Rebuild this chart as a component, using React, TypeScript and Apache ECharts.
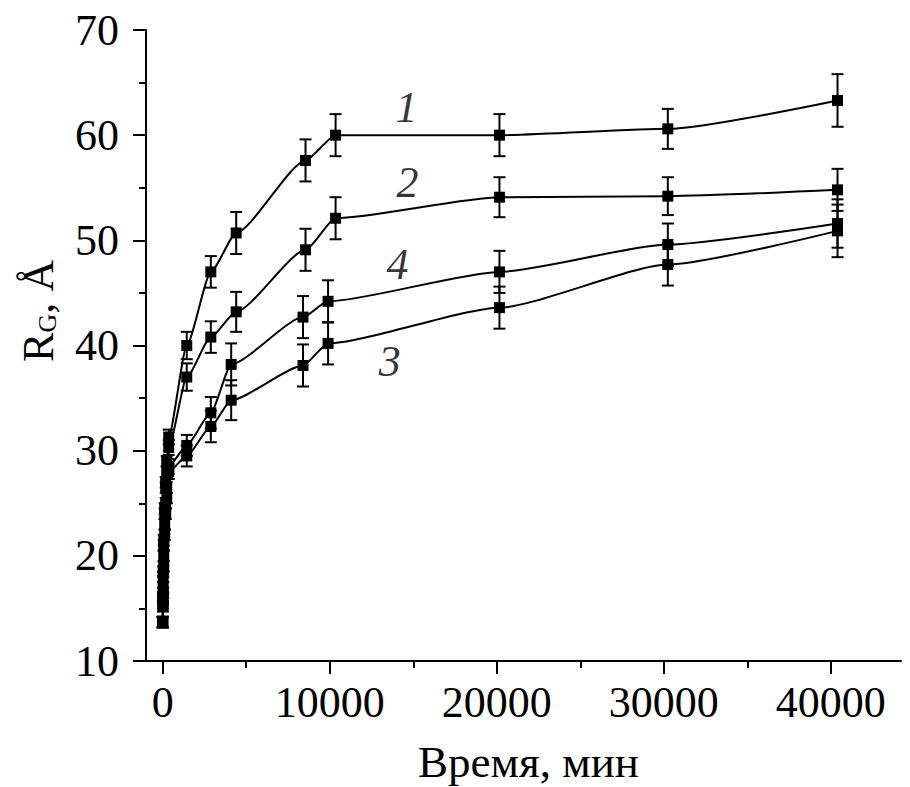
import React, { useEffect, useRef } from 'react';
import * as echarts from 'echarts';

// time points (min) for curves 1 and 2, and for curves 3 and 4
const TIME_A = [0, 15, 30, 60, 120, 180, 240, 360, 1440, 2880, 4400, 8550, 10350, 20160, 30240, 40400];
const TIME_B = [0, 15, 30, 60, 120, 180, 240, 360, 1440, 2880, 4100, 8400, 9900, 20160, 30240, 40400];

// radius of gyration, Å
const RG_1 = [13.7, 16.0, 18.5, 21.5, 24.5, 27.0, 29.0, 31.3, 40.0, 47.0, 50.7, 57.6, 60.0, 60.0, 60.6, 63.3];
const RG_2 = [13.7, 15.8, 18.0, 21.0, 24.0, 26.5, 28.0, 30.3, 37.0, 40.8, 43.2, 49.1, 52.1, 54.1, 54.2, 54.8];
const RG_3 = [13.7, 15.2, 16.5, 19.0, 22.0, 24.0, 25.5, 28.0, 29.5, 32.3, 34.8, 38.1, 40.2, 43.6, 47.7, 50.9];
const RG_4 = [13.7, 15.5, 17.0, 20.0, 23.0, 25.0, 26.5, 28.5, 30.5, 33.6, 38.2, 42.7, 44.2, 47.0, 49.6, 51.6];

// error bars (±)
const ERR_1 = [0.5, 0.5, 0.5, 0.5, 0.5, 0.5, 0.5, 0.7, 1.3, 1.5, 2.0, 2.0, 2.0, 2.0, 1.9, 2.5];
const ERR_2 = [0.5, 0.5, 0.5, 0.5, 0.5, 0.5, 0.5, 0.7, 1.3, 1.5, 1.9, 2.0, 2.0, 1.9, 1.8, 2.0];
const ERR_3 = [0.5, 0.5, 0.5, 0.5, 0.5, 0.5, 0.5, 0.7, 1.0, 1.5, 1.9, 2.0, 2.0, 2.0, 2.0, 2.5];
const ERR_4 = [0.5, 0.5, 0.5, 0.5, 0.5, 0.5, 0.5, 0.7, 1.0, 1.5, 2.0, 2.0, 2.0, 2.0, 2.0, 2.3];

// axis ticks
const X_MAJOR = [0, 10000, 20000, 30000, 40000];
const X_MINOR = [5000, 15000, 25000, 35000];

// curve labels
const CURVE_NAMES = ['1', '2', '3', '4'];
const LABEL_T = [14600, 14650, 13600, 14050];
const LABEL_V = [62.6, 55.5, 38.5, 47.7];

const FONT = '"Liberation Serif", "Times New Roman", serif';

export default function App() {
  const ref = useRef<HTMLDivElement>(null);

  useEffect(() => {
    if (!ref.current) return;
    const chart = echarts.init(ref.current, null, { renderer: 'svg' });

    const curves = [
      { name: '1', t: TIME_A, v: RG_1, e: ERR_1 },
      { name: '2', t: TIME_A, v: RG_2, e: ERR_2 },
      { name: '3', t: TIME_B, v: RG_3, e: ERR_3 },
      { name: '4', t: TIME_B, v: RG_4, e: ERR_4 },
    ];

    const lineStyle = { color: '#000', width: 2 };
    const series: any[] = [];
    curves.forEach((c) => {
      series.push({
        type: 'line',
        name: c.name,
        data: c.t.map((t, i) => [t, c.v[i]]),
        smooth: 0.2,
        smoothMonotone: 'x',
        symbol: 'rect',
        symbolSize: 11,
        showAllSymbol: true,
        lineStyle: { color: '#000', width: 2 },
        itemStyle: { color: '#000' },
        z: 4,
        silent: true,
      });
      series.push({
        type: 'custom',
        name: c.name + '-err',
        data: c.t.map((t, i) => [t, c.v[i], c.e[i]]),
        encode: { x: 0, y: 1 },
        z: 3,
        silent: true,
        renderItem: (params: any, api: any) => {
          const t = api.value(0);
          const v = api.value(1);
          const e = api.value(2);
          const hi = api.coord([t, v + e]);
          const lo = api.coord([t, v - e]);
          const w = 6;
          const st = { stroke: '#000', lineWidth: 2 };
          return {
            type: 'group',
            children: [
              { type: 'line', shape: { x1: hi[0], y1: hi[1], x2: lo[0], y2: lo[1] }, style: st },
              { type: 'line', shape: { x1: hi[0] - w, y1: hi[1], x2: hi[0] + w, y2: hi[1] }, style: st },
              { type: 'line', shape: { x1: lo[0] - w, y1: lo[1], x2: lo[0] + w, y2: lo[1] }, style: st },
            ],
          };
        },
      });
    });

    series.push({
      type: 'scatter',
      data: LABEL_T.map((t, i) => [t, LABEL_V[i], CURVE_NAMES[i]]),
      symbol: 'circle',
      symbolSize: 1,
      itemStyle: { color: 'rgba(0,0,0,0)' },
      silent: true,
      z: 5,
      label: {
        show: true,
        position: 'inside',
        formatter: (p: any) => p.value[2],
        fontFamily: FONT,
        fontStyle: 'italic',
        fontSize: 44,
        color: '#000',
      },
    });

    const option: any = {
      animation: false,
      backgroundColor: '#fff',
      grid: {
        left: 146,
        top: 30,
        width: 755,
        height: 631,
        containLabel: false,
        outerBoundsMode: 'none',
      },
      xAxis: [
        {
          type: 'value',
          min: -1000,
          max: 44200,
          position: 'bottom',
          axisLine: { show: true, onZero: false, lineStyle },
          axisTick: { show: true, customValues: X_MAJOR, length: 13, lineStyle },
          axisLabel: {
            show: true,
            customValues: X_MAJOR,
            color: '#000',
            fontFamily: FONT,
            fontSize: 44,
            margin: 19,
            formatter: (v: number) => String(v),
          },
          splitLine: { show: false },
          name: 'Время, мин',
          nameLocation: 'middle',
          nameGap: 78,
          nameTextStyle: { color: '#000', fontFamily: FONT, fontSize: 45, padding: [0, 0, 0, 10] },
        },
        {
          type: 'value',
          min: -1000,
          max: 44200,
          position: 'bottom',
          axisLine: { show: false, onZero: false },
          axisTick: { show: true, customValues: X_MINOR, length: 7, lineStyle },
          axisLabel: { show: false },
          splitLine: { show: false },
        },
      ],
      yAxis: {
        type: 'value',
        min: 10,
        max: 70,
        interval: 10,
        axisLine: { show: true, onZero: false, lineStyle },
        axisTick: { show: true, length: 13, lineStyle },
        minorTick: { show: true, splitNumber: 2, length: 7, lineStyle },
        axisLabel: { color: '#000', fontFamily: FONT, fontSize: 44, margin: 27 },
        splitLine: { show: false },
        minorSplitLine: { show: false },
      },
      graphic: [
        {
          type: 'text',
          x: 38,
          y: 311,
          rotation: Math.PI / 2,
          silent: true,
          style: {
            text: '{r|R}{g|G}{r|, Å}',
            align: 'center',
            verticalAlign: 'middle',
            fill: '#000',
            rich: {
              r: { fontSize: 44, fontFamily: FONT, fill: '#000', lineHeight: 44 },
              g: { fontSize: 26, fontFamily: FONT, fill: '#000', lineHeight: 1, verticalAlign: 'bottom' },
            },
          },
        },
      ],
      series,
    };

    chart.setOption(option);
    return () => chart.dispose();
  }, []);

  return (
    <div
      ref={ref}
      style={{ position: 'absolute', left: 0, top: 0, width: 910, height: 787, background: '#fff' }}
    />
  );
}
